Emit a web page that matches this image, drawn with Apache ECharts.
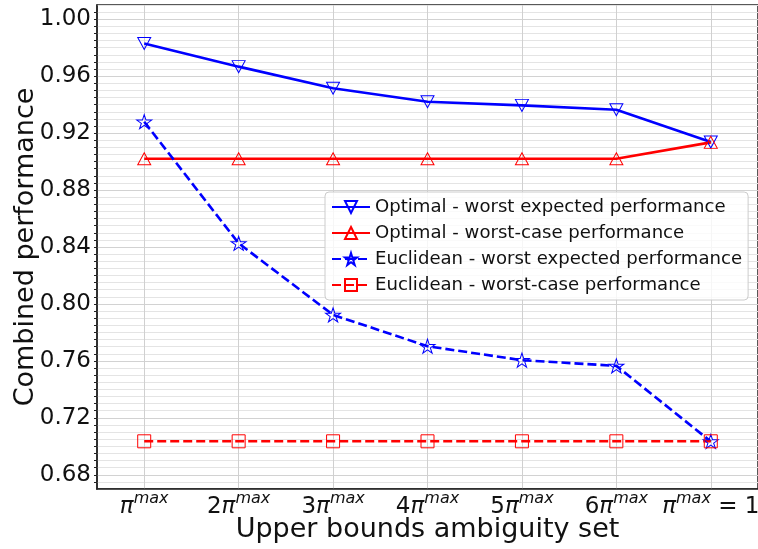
<!DOCTYPE html>
<html>
<head>
<meta charset="utf-8">
<script src="https://cdn.jsdelivr.net/npm/echarts@6/dist/echarts.min.js"></script>
<style>
  html, body { margin: 0; padding: 0; background: #fff; }
  #chart { width: 758px; height: 549px; }
</style>
</head>
<body>
<div id="chart"></div>
<script>
// tick labels on the x axis: prefix + pi^max + suffix
const xPrefix = ['', '2', '3', '4', '5', '6', '']
const xSuffix = ['', '', '', '', '', '', ' = 1']
const categories = xPrefix.map((p, i) => p + 'π^max' + xSuffix[i])

const optimalExpected = [0.983, 0.9667, 0.9515, 0.942, 0.9395, 0.9364, 0.9137]
const optimalWorst = [0.902, 0.902, 0.902, 0.902, 0.902, 0.902, 0.9135]
const euclidExpected = [0.928, 0.8426, 0.7923, 0.7703, 0.7605, 0.7565, 0.7034]
const euclidWorst = [0.7035, 0.7035, 0.7035, 0.7035, 0.7035, 0.7035, 0.7035]

const seriesNames = [
  'Optimal - worst expected performance',
  'Optimal - worst-case performance',
  'Euclidean - worst expected performance',
  'Euclidean - worst-case performance'
]

const FONT = 'DejaVu Sans'
const BLUE = '#0000ff'
const RED = '#ff0000'

const triDown = 'path://M0,0 L10,0 L5,10 Z'
const triUp = 'path://M5,0 L10,10 L0,10 Z'
const star = 'path://M50,0 L61.23,34.55 L97.55,34.55 L68.16,55.9 L79.39,90.45 L50,69.1 L20.61,90.45 L31.84,55.9 L2.45,34.55 L38.77,34.55 Z'

function makeSeries(name, data, color, dashed, symbol, size) {
  return {
    name: name,
    type: 'line',
    data: data,
    symbol: symbol,
    symbolSize: size,
    showAllSymbol: true,
    lineStyle: { color: color, width: 2.6, type: dashed ? [9, 4] : 'solid' },
    itemStyle: { color: 'rgba(0,0,0,0)', borderColor: color, borderWidth: 1 },
    emphasis: { disabled: true }
  }
}

// minor grid every 0.005, major every 0.04
const gridColors = []
for (let i = 0; i < 8; i++) gridColors.push(i === 2 ? '#d2d2d2' : '#e4e4e4')

const chart = echarts.init(document.getElementById('chart'))
chart.setOption({
  animation: false,
  backgroundColor: '#fff',
  grid: {
    left: 97, top: 5, right: 0, bottom: 60,
    outerBoundsMode: 'none', containLabel: false,
    show: true, borderColor: '#222', borderWidth: 1.5
  },
  legend: {
    left: 325,
    top: 192,
    orient: 'vertical',
    data: seriesNames,
    itemWidth: 38,
    itemHeight: 15,
    itemGap: 6,
    itemTextGap: 14,
    padding: [5, 6, 5, 6],
    backgroundColor: 'rgba(255,255,255,0.8)',
    borderColor: '#cccccc',
    borderWidth: 1,
    borderRadius: 4,
    textStyle: { fontFamily: FONT, fontSize: 18.1, color: '#111', lineHeight: 20 }
  },
  xAxis: {
    type: 'category',
    data: categories,
    name: 'Upper bounds ambiguity set',
    nameLocation: 'middle',
    nameGap: 27,
    nameMoveOverlap: false,
    nameTextStyle: { fontFamily: FONT, fontSize: 27, color: '#111' },
    axisLine: { lineStyle: { color: '#222', width: 1.5 } },
    axisTick: { alignWithLabel: true, length: 4, lineStyle: { color: '#222' } },
    splitLine: { show: true, alignWithLabel: true, lineStyle: { color: '#d0d0d0', width: 1 } },
    axisLabel: {
      interval: 0,
      margin: 2,
      formatter: function (value) {
        const parts = value.split('π^max')
        return (parts[0] ? '{n|' + parts[0] + '}' : '') + '{pi|π}{sup|max}' +
          (parts[1] ? '{n|' + parts[1] + '}' : '')
      },
      rich: {
        n: { fontFamily: FONT, fontSize: 23, color: '#111', lineHeight: 32 },
        pi: { fontFamily: FONT, fontSize: 23, fontStyle: 'italic', color: '#111', lineHeight: 32 },
        sup: { fontFamily: FONT, fontSize: 16, fontStyle: 'italic', color: '#111', lineHeight: 15, verticalAlign: 'top' }
      }
    }
  },
  yAxis: {
    type: 'value',
    min: 0.67,
    max: 1.01,
    interval: 0.005,
    name: 'Combined performance',
    nameLocation: 'middle',
    nameRotate: 90,
    nameGap: 58,
    nameMoveOverlap: false,
    nameTextStyle: { fontFamily: FONT, fontSize: 27, color: '#111' },
    axisLine: { show: true, lineStyle: { color: '#222', width: 1.5 } },
    axisTick: { show: true, length: 3, lineStyle: { color: '#222' } },
    splitLine: { show: true, lineStyle: { color: gridColors, width: 1.2 } },
    axisLabel: {
      margin: 6,
      fontFamily: FONT,
      fontSize: 23,
      color: '#111',
      showMinLabel: false,
      showMaxLabel: false,
      formatter: function (v) {
        const k = v * 25
        return Math.abs(k - Math.round(k)) < 1e-6 ? v.toFixed(2) : ''
      }
    }
  },
  series: [
    makeSeries(seriesNames[0], optimalExpected, BLUE, false, triDown, [13, 12]),
    makeSeries(seriesNames[1], optimalWorst, RED, false, triUp, [13, 12]),
    makeSeries(seriesNames[2], euclidExpected, BLUE, true, star, [15, 14]),
    makeSeries(seriesNames[3], euclidWorst, RED, true, 'rect', [13, 13])
  ]
})
</script>
</body>
</html>
